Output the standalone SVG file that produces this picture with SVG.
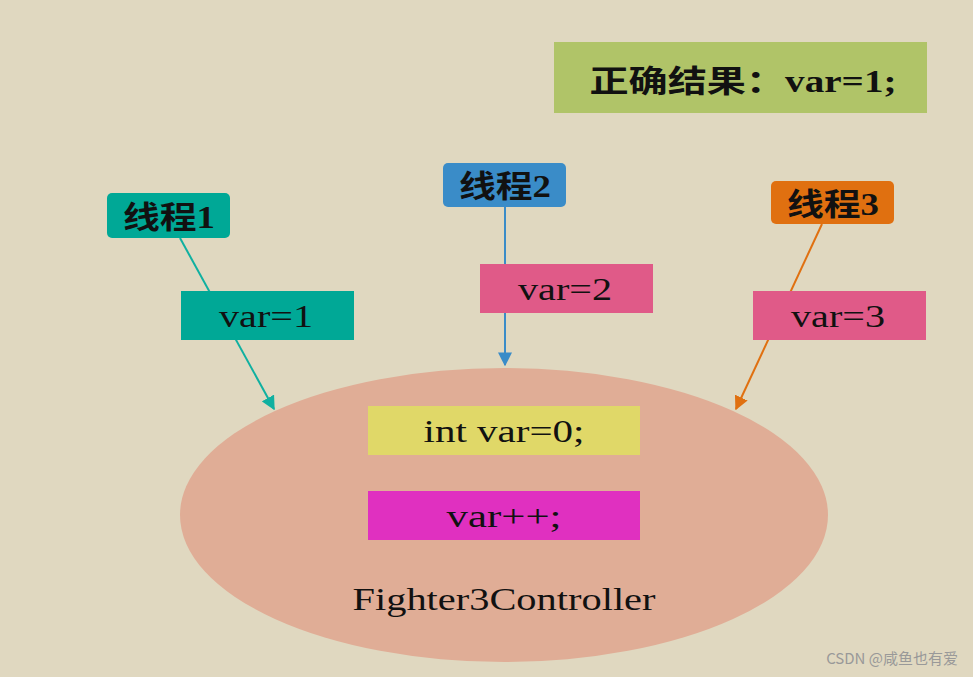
<svg xmlns="http://www.w3.org/2000/svg" width="973" height="677" viewBox="0 0 973 677">
<style>
.t{font-family:"Liberation Serif","Noto Sans CJK SC",serif;font-size:32px;fill:#111;text-anchor:middle}
.c{font-family:"Noto Sans CJK SC",serif;font-weight:bold;font-size:31px;fill:#111;text-anchor:middle}
</style>
<defs>
<marker id="a1" viewBox="0 0 10 10" refX="9" refY="5" markerWidth="7" markerHeight="7" orient="auto"><path d="M0,0L10,5L0,10z" fill="#10b0a0"/></marker>
<marker id="a2" viewBox="0 0 10 10" refX="9" refY="5" markerWidth="7" markerHeight="7" orient="auto"><path d="M0,0L10,5L0,10z" fill="#3a8cc8"/></marker>
<marker id="a3" viewBox="0 0 10 10" refX="9" refY="5" markerWidth="7" markerHeight="7" orient="auto"><path d="M0,0L10,5L0,10z" fill="#e07010"/></marker>
</defs>
<rect width="973" height="677" fill="#e0d8c0"/>
<g id="controller"><ellipse cx="504" cy="515" rx="324" ry="147" fill="#e0ad96"/>
<text class="t" x="504" y="610" textLength="303" lengthAdjust="spacingAndGlyphs">Fighter3Controller</text></g>
<g id="result"><rect x="554" y="42" width="373" height="71" fill="#b0c468"/><text class="c" x="743" y="92" textLength="307" lengthAdjust="spacingAndGlyphs">正确结果：<tspan font-family="Liberation Serif">var=1;</tspan></text></g>
<g id="connectors" stroke-width="2">
<line x1="180" y1="238" x2="274" y2="409" stroke="#10b0a0" marker-end="url(#a1)"/>
<line x1="505" y1="207" x2="505" y2="365" stroke="#3a8cc8" marker-end="url(#a2)"/>
<line x1="822" y1="224" x2="736" y2="409" stroke="#e07010" marker-end="url(#a3)"/>
</g>
<g id="t1"><rect x="107" y="193" width="123" height="45" rx="5" fill="#00a896"/><text class="c" x="169" y="228" textLength="92" lengthAdjust="spacingAndGlyphs">线程<tspan font-family="Liberation Serif">1</tspan></text></g>
<g id="t2"><rect x="443" y="163" width="123" height="44" rx="5" fill="#3a8cc8"/><text class="c" x="505" y="197" textLength="92" lengthAdjust="spacingAndGlyphs">线程<tspan font-family="Liberation Serif">2</tspan></text></g>
<g id="t3"><rect x="771" y="181" width="123" height="43" rx="5" fill="#e07010"/><text class="c" x="833" y="215" textLength="92" lengthAdjust="spacingAndGlyphs">线程<tspan font-family="Liberation Serif">3</tspan></text></g>
<g id="v1"><rect x="181" y="291" width="173" height="49" fill="#00a896"/><text class="t" x="266" y="327" textLength="94" lengthAdjust="spacingAndGlyphs">var=1</text></g>
<g id="v2"><rect x="480" y="264" width="173" height="49" fill="#e05a88"/><text class="t" x="565" y="300" textLength="94" lengthAdjust="spacingAndGlyphs">var=2</text></g>
<g id="v3"><rect x="753" y="291" width="173" height="49" fill="#e05a88"/><text class="t" x="838" y="327" textLength="94" lengthAdjust="spacingAndGlyphs">var=3</text></g>
<g id="init"><rect x="368" y="406" width="272" height="49" fill="#e0d868"/><text class="t" x="504" y="442" textLength="161" lengthAdjust="spacingAndGlyphs">int var=0;</text></g>
<g id="inc"><rect x="368" y="491" width="272" height="49" fill="#e030c0"/><text class="t" x="504" y="527" textLength="115" lengthAdjust="spacingAndGlyphs">var++;</text></g>
<text x="958" y="664" text-anchor="end" font-family="Noto Sans CJK SC,sans-serif" font-size="15" fill="#999">CSDN @咸鱼也有爱</text>
</svg>
